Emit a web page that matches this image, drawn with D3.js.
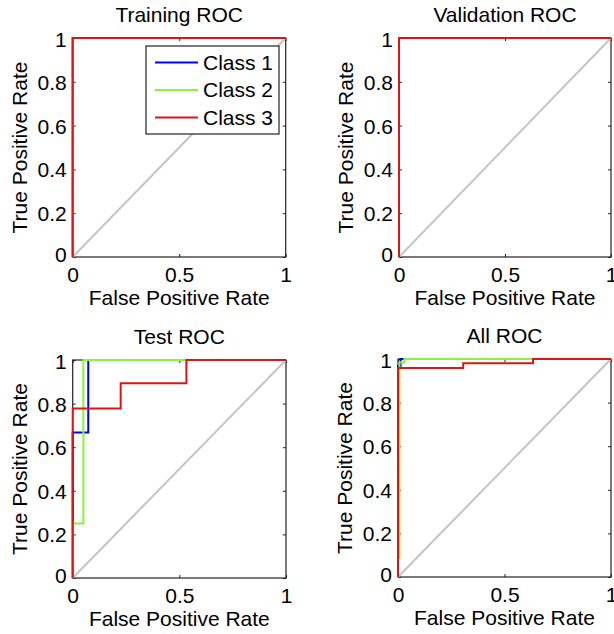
<!DOCTYPE html>
<html>
<head>
<meta charset="utf-8">
<script src="https://cdn.jsdelivr.net/npm/d3@7"></script>
<style>
  html, body { margin: 0; padding: 0; background: #fff; }
  svg { display: block; }
  text { font-family: "Liberation Sans", Arial, sans-serif; fill: #000; }
</style>
</head>
<body>
<script>
// ---------- data ----------
const panelTitles = ["Training ROC", "Validation ROC", "Test ROC", "All ROC"];
const classNames = ["Class 1", "Class 2", "Class 3"];
const classColors = ["#0000ff", "#86f53c", "#dd1515"];
const xTickValues = [0, 0.5, 1];
const yTickValues = [0, 0.2, 0.4, 0.6, 0.8, 1];
const xLabel = "False Positive Rate";
const yLabel = "True Positive Rate";

// per panel: one FPR array and one TPR array per class
const trainingFpr = [[0, 0, 1], [0, 0, 1], [0, 0, 1]];
const trainingTpr = [[0, 1, 1], [0, 1, 1], [0, 1, 1]];
const validationFpr = [[0, 0, 1], [0, 0, 1], [0, 0, 1]];
const validationTpr = [[0, 1, 1], [0, 1, 1], [0, 1, 1]];
const testFpr = [
  [0, 0, 0.073, 0.073, 1],
  [0, 0, 0.05, 0.05, 1],
  [0, 0, 0.225, 0.225, 0.533, 0.533, 1]
];
const testTpr = [
  [0, 0.667, 0.667, 1, 1],
  [0, 0.25, 0.25, 1, 1],
  [0, 0.778, 0.778, 0.893, 0.893, 1, 1]
];
const allFpr = [
  [0, 0, 0.012, 0.012, 1],
  [0, 0, 0.007, 0.007, 0.03, 0.03, 1],
  [0, 0, 0.306, 0.306, 0.634, 0.634, 1]
];
const allTpr = [
  [0, 0.968, 0.968, 1, 1],
  [0, 0.087, 0.087, 0.985, 0.985, 1, 1],
  [0, 0.959, 0.959, 0.98, 0.98, 1, 1]
];
const panelFpr = [trainingFpr, validationFpr, testFpr, allFpr];
const panelTpr = [trainingTpr, validationTpr, testTpr, allTpr];

// ---------- layout ----------
const W = 614, H = 634;
const panelBoxes = [
  { left: 72.7, right: 285.7, top: 38, bottom: 257 },
  { left: 399, right: 611, top: 38, bottom: 257 },
  { left: 72.7, right: 286, top: 360, bottom: 578 },
  { left: 398, right: 611, top: 359, bottom: 577 }
];
const FS = 21;

const svg = d3.select("body").append("svg")
  .attr("width", W).attr("height", H);
svg.append("rect").attr("width", W).attr("height", H).attr("fill", "#fff");

panelBoxes.forEach((b, p) => {
  const x = d3.scaleLinear().domain([0, 1]).range([b.left, b.right]);
  const y = d3.scaleLinear().domain([0, 1]).range([b.bottom, b.top]);
  const g = svg.append("g");
  const tickLen = 3;

  // axis box
  g.append("rect")
    .attr("x", b.left).attr("y", b.top)
    .attr("width", b.right - b.left).attr("height", b.bottom - b.top)
    .attr("fill", "#fff").attr("stroke", "#222").attr("stroke-width", 1.2);

  // axes with inward ticks
  const axB = d3.axisBottom(x).tickValues(xTickValues).tickSize(-tickLen).tickFormat(d3.format("~g")).tickPadding(0);
  const axT = d3.axisTop(x).tickValues(xTickValues).tickSize(-tickLen).tickFormat("");
  const axL = d3.axisLeft(y).tickValues(yTickValues).tickSize(-tickLen).tickFormat(d3.format("~g")).tickPadding(0);
  const axR = d3.axisRight(y).tickValues(yTickValues).tickSize(-tickLen).tickFormat("");

  const gb = g.append("g").attr("transform", `translate(0,${b.bottom})`).call(axB);
  const gt = g.append("g").attr("transform", `translate(0,${b.top})`).call(axT);
  const gl = g.append("g").attr("transform", `translate(${b.left},0)`).call(axL);
  const gr = g.append("g").attr("transform", `translate(${b.right},0)`).call(axR);
  [gb, gt, gl, gr].forEach(a => {
    a.select(".domain").remove();
    a.selectAll(".tick line").attr("stroke", "#222").attr("stroke-width", 1);
    a.selectAll("text").style("font-size", FS + "px").attr("fill", "#000")
      .style("font-family", "'Liberation Sans', Arial, sans-serif");
  });
  gb.selectAll(".tick text").attr("dy", null).attr("y", 25);
  gl.selectAll(".tick text").attr("x", -6).attr("dy", "0.36em");
  gl.selectAll(".tick").filter(d => d === 0).select("text").attr("dy", "0.2em");
  gl.selectAll(".tick").filter(d => d === 1).select("text").attr("dy", "0.42em");

  // diagonal reference
  g.append("line")
    .attr("x1", x(0)).attr("y1", y(0)).attr("x2", x(1)).attr("y2", y(1))
    .attr("stroke", "#c4c4c4").attr("stroke-width", 2);

  // ROC curves
  const line = d3.line().x(d => x(d[0])).y(d => y(d[1]));
  classNames.forEach((c, k) => {
    const pts = panelFpr[p][k].map((f, i) => [f, panelTpr[p][k][i]]);
    g.append("path").datum(pts)
      .attr("d", line).attr("fill", "none")
      .attr("stroke", classColors[k]).attr("stroke-width", 2)
      .attr("stroke-linejoin", "miter");
  });

  // title
  g.append("text")
    .attr("x", (b.left + b.right) / 2).attr("y", b.top - 16)
    .attr("text-anchor", "middle").style("font-size", FS + "px")
    .text(panelTitles[p]);
  // x label
  g.append("text")
    .attr("x", (b.left + b.right) / 2).attr("y", b.bottom + 48)
    .attr("text-anchor", "middle").style("font-size", FS + "px")
    .text(xLabel);
  // y label
  g.append("text")
    .attr("transform", `translate(${b.left - 46},${(b.top + b.bottom) / 2}) rotate(-90)`)
    .attr("text-anchor", "middle").style("font-size", FS + "px")
    .text(yLabel);

  // legend on first panel
  if (p === 0) {
    const lg = g.append("g");
    const lx = b.left + 73.3, ly = b.top + 8, lw = 133, lh = 88;
    lg.append("rect").attr("x", lx).attr("y", ly).attr("width", lw).attr("height", lh)
      .attr("fill", "#fff").attr("stroke", "#222").attr("stroke-width", 1.2);
    classNames.forEach((c, k) => {
      const yy = ly + 16.5 + k * 27.5;
      lg.append("line").attr("x1", lx + 9).attr("x2", lx + 52)
        .attr("y1", yy).attr("y2", yy)
        .attr("stroke", classColors[k]).attr("stroke-width", 2);
      lg.append("text").attr("x", lx + 57).attr("y", yy).attr("dy", "0.35em")
        .style("font-size", FS + "px").text(c);
    });
  }
});
</script>
</body>
</html>
